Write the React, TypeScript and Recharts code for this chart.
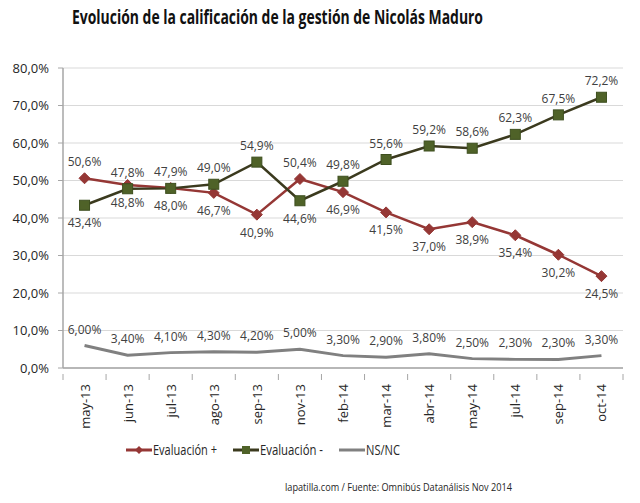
import React from 'react';
import { LineChart, Line, XAxis, YAxis, CartesianGrid, LabelList } from 'recharts';

if (typeof document !== 'undefined') document.body.style.margin = '0';

const months = [
  'may-13', 'jun-13', 'jul-13', 'ago-13', 'sep-13', 'nov-13', 'feb-14',
  'mar-14', 'abr-14', 'may-14', 'jul-14', 'sep-14', 'oct-14',
];
const evalPlus = [50.6, 48.8, 48.0, 46.7, 40.9, 50.4, 46.9, 41.5, 37.0, 38.9, 35.4, 30.2, 24.5];
const evalMinus = [43.4, 47.8, 47.9, 49.0, 54.9, 44.6, 49.8, 55.6, 59.2, 58.6, 62.3, 67.5, 72.2];
const nsnc = [6.0, 3.4, 4.1, 4.3, 4.2, 5.0, 3.3, 2.9, 3.8, 2.5, 2.3, 2.3, 3.3];
const yTicks = [0, 10, 20, 30, 40, 50, 60, 70, 80];

// which points get their label above the marker (the rest go below)
const plusAbove = [0, 5];
const minusAbove = [1, 2, 3, 4, 6, 7, 8, 9, 10, 11, 12];

const data = months.map((m, i) => ({
  month: m,
  plus: evalPlus[i],
  minus: evalMinus[i],
  ns: nsnc[i],
}));

const RED = '#953735';
const OLIVE_LINE = '#3b3a1e';
const OLIVE_FILL = '#4f6228';
const GRAY = '#808080';
const TXT = '#404040';
const FONT = '"Open Sans", "Noto Sans", sans-serif';
const NARROW = '"Liberation Sans Narrow", "Open Sans", sans-serif';
const PLOT_W = 560;

const pct1 = (v: number) => `${v.toFixed(1).replace('.', ',')}%`;
const pct2 = (v: number) => `${v.toFixed(2).replace('.', ',')}%`;

const makeLabel = (above: number[], fmt: (v: number) => string) => (props: any) => {
  const { x, y, value, index } = props;
  const up = above.includes(index);
  return (
    <text
      x={x}
      y={up ? y - 12 : y + 22}
      textAnchor="middle"
      fontSize={12}
      fontFamily={FONT}
      fill={TXT}
    >
      {fmt(value)}
    </text>
  );
};

const Diamond = (props: any) => {
  const { cx, cy } = props;
  const r = 5.5;
  return (
    <path
      d={`M${cx},${cy - r}L${cx + r},${cy}L${cx},${cy + r}L${cx - r},${cy}Z`}
      fill={RED}
      stroke={RED}
      strokeWidth={1}
    />
  );
};

const Square = (props: any) => {
  const { cx, cy } = props;
  const s = 10;
  return (
    <rect
      x={cx - s / 2}
      y={cy - s / 2}
      width={s}
      height={s}
      fill={OLIVE_FILL}
      stroke="#3e4f1f"
      strokeWidth={1}
    />
  );
};

const MonthTick = (props: any) => {
  const { x, y, payload, index, visibleTicksCount } = props;
  const band = PLOT_W / months.length;
  return (
    <g>
      <line x1={x - band / 2} y1={y - 2} x2={x - band / 2} y2={y + 4} stroke="#a6a6a6" />
      {index === visibleTicksCount - 1 && (
        <line x1={x + band / 2} y1={y - 2} x2={x + band / 2} y2={y + 4} stroke="#a6a6a6" />
      )}
      <text
        x={x}
        y={y + 8}
        transform={`rotate(-90, ${x}, ${y + 8})`}
        textAnchor="end"
        dominantBaseline="central"
        fontSize={13}
        fontFamily={FONT}
        fill="#262626"
      >
        {payload.value}
      </text>
    </g>
  );
};

const legendItems = [
  { name: 'Evaluación +', color: RED, marker: 'diamond' },
  { name: 'Evaluación -', color: OLIVE_LINE, marker: 'square' },
  { name: 'NS/NC', color: GRAY, marker: 'none' },
];
const legendX = [126, 233, 339];
const legendTextW = [64, 63, 34];

export default function App() {
  return (
    <div style={{ position: 'relative', width: 640, height: 503, background: '#fff', overflow: 'hidden' }}>
      <svg width={640} height={40} style={{ position: 'absolute', left: 0, top: 0 }}>
        <text
          x={72}
          y={24}
          textLength={411}
          lengthAdjust="spacingAndGlyphs"
          fontSize={19}
          fontWeight={700}
          fontFamily={NARROW}
          fill="#111"
        >
          Evolución  de la calificación de la gestión de Nicolás Maduro
        </text>
      </svg>
      <LineChart
        width={640}
        height={503}
        data={data}
        margin={{ top: 68, right: 17, left: 0, bottom: 75 }}
        style={{ position: 'absolute', left: 0, top: 0 }}
      >
        <CartesianGrid vertical={false} stroke="#d9d9d9" />
        <XAxis
          dataKey="month"
          scale="band"
          interval={0}
          height={60}
          axisLine={{ stroke: '#a6a6a6', strokeWidth: 1.5 }}
          tickLine={false}
          tick={<MonthTick />}
        />
        <YAxis
          width={63}
          domain={[0, 80]}
          ticks={yTicks}
          tickFormatter={pct1}
          axisLine={{ stroke: '#a6a6a6', strokeWidth: 1.5 }}
          tickLine={{ stroke: '#a6a6a6' }}
          tickSize={5}
          tickMargin={9}
          tick={{ fontSize: 13, fontFamily: FONT, fill: '#262626' }}
        />
        <Line
          dataKey="ns"
          stroke={GRAY}
          strokeWidth={3}
          dot={false}
          isAnimationActive={false}
        >
          <LabelList dataKey="ns" content={makeLabel(months.map((_, i) => i), pct2)} />
        </Line>
        <Line
          dataKey="plus"
          stroke={RED}
          strokeWidth={2.5}
          dot={<Diamond />}
          isAnimationActive={false}
        >
          <LabelList dataKey="plus" content={makeLabel(plusAbove, pct1)} />
        </Line>
        <Line
          dataKey="minus"
          stroke={OLIVE_LINE}
          strokeWidth={2.5}
          dot={<Square />}
          isAnimationActive={false}
        >
          <LabelList dataKey="minus" content={makeLabel(minusAbove, pct1)} />
        </Line>
      </LineChart>
      <svg width={640} height={503} style={{ position: 'absolute', left: 0, top: 0, pointerEvents: 'none' }}>
        {legendItems.map((it, i) => {
          const x0 = legendX[i];
          const y0 = 450;
          return (
            <g key={it.name}>
              <line x1={x0} y1={y0} x2={x0 + 26} y2={y0} stroke={it.color} strokeWidth={3} />
              {it.marker === 'diamond' && (
                <path d={`M${x0 + 13},${y0 - 4}L${x0 + 17},${y0}L${x0 + 13},${y0 + 4}L${x0 + 9},${y0}Z`} fill={RED} />
              )}
              {it.marker === 'square' && (
                <rect x={x0 + 9} y={y0 - 4} width={8} height={8} fill={OLIVE_FILL} />
              )}
              <text
                x={x0 + 27}
                y={y0 + 5}
                textLength={legendTextW[i]}
                lengthAdjust="spacingAndGlyphs"
                fontSize={14}
                fontFamily={NARROW}
                fill="#262626"
              >
                {it.name}
              </text>
            </g>
          );
        })}
        <text
          x={285}
          y={491}
          textLength={227}
          lengthAdjust="spacingAndGlyphs"
          fontSize={11}
          fontFamily={NARROW}
          fill="#262626"
        >
          lapatilla.com / Fuente:  Omnibús Datanálisis Nov 2014
        </text>
      </svg>
    </div>
  );
}
